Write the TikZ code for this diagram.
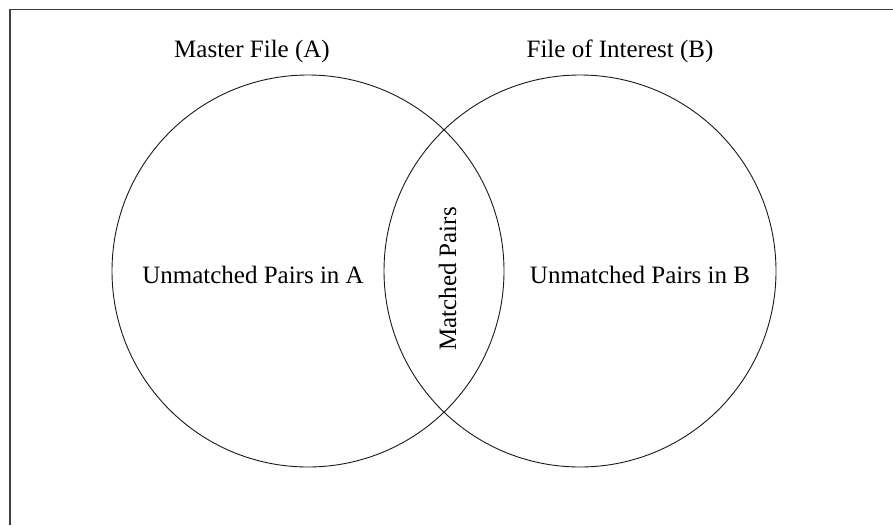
\documentclass[tikz,border=0pt]{standalone}
\usepackage{fontspec}
\setmainfont{Liberation Serif}
\begin{document}
\begin{tikzpicture}[x=1pt,y=-1pt,font=\fontsize{25}{30}\selectfont,
  set/.style={circle,draw=black!90,line width=0.9pt,minimum size=392pt,inner sep=0pt}]
\useasboundingbox (0,0) rectangle (893,525);
\draw [black!75, line width=1.6pt] (10,525) -- (10,9.5) -- (893,9.5);
\node [set] (setA) at (308,271) {};
\node [set] (setB) at (580,271) {};
\node [anchor=base] (titleA) at (252,57) {Master File (A)};
\node [anchor=base] (titleB) at (620,57) {File of Interest (B)};
\node [anchor=base] (onlyA) at (253,283) {Unmatched Pairs in A};
\node [anchor=base] (onlyB) at (640,283) {Unmatched Pairs in B};
\node [anchor=base, rotate=90] (both) at (456,279) {Matched Pairs};
\end{tikzpicture}
\end{document}
